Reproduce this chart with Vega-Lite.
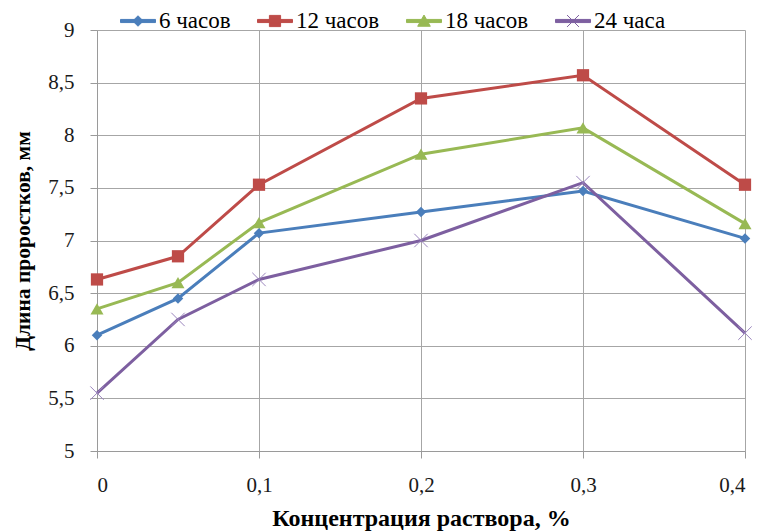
{
  "$schema": "https://vega.github.io/schema/vega-lite/v6.json",
  "width": 648,
  "height": 421,
  "autosize": {"type": "none"},
  "padding": {"left": 97, "top": 30, "right": 19, "bottom": 80},
  "background": "white",
  "config": {
    "locale": {"number": {"decimal": ",", "thousands": " ", "grouping": [3], "currency": ["", ""]}},
    "font": "Liberation Serif",
    "view": {"stroke": null},
    "axis": {
      "domainColor": "#9a9a9a",
      "tickColor": "#9a9a9a",
      "gridColor": "#a6a6a6",
      "gridOpacity": 1,
      "tickSize": 7,
      "labelFont": "Liberation Serif",
      "labelFontSize": 21,
      "labelColor": "#1a1a1a",
      "titleFont": "Liberation Serif",
      "titleFontWeight": "bold",
      "titleColor": "#000000"
    },
    "legend": {
      "labelFont": "Liberation Serif",
      "labelFontSize": 23,
      "labelColor": "#000000"
    }
  },
  "data": {
    "values": [
      {"c": 0, "series": "6 часов", "v": 6.10},
      {"c": 0.05, "series": "6 часов", "v": 6.45},
      {"c": 0.1, "series": "6 часов", "v": 7.07},
      {"c": 0.2, "series": "6 часов", "v": 7.27},
      {"c": 0.3, "series": "6 часов", "v": 7.47},
      {"c": 0.4, "series": "6 часов", "v": 7.02},
      {"c": 0, "series": "12 часов", "v": 6.63},
      {"c": 0.05, "series": "12 часов", "v": 6.85},
      {"c": 0.1, "series": "12 часов", "v": 7.53},
      {"c": 0.2, "series": "12 часов", "v": 8.35},
      {"c": 0.3, "series": "12 часов", "v": 8.57},
      {"c": 0.4, "series": "12 часов", "v": 7.53},
      {"c": 0, "series": "18 часов", "v": 6.35},
      {"c": 0.05, "series": "18 часов", "v": 6.60},
      {"c": 0.1, "series": "18 часов", "v": 7.17},
      {"c": 0.2, "series": "18 часов", "v": 7.82},
      {"c": 0.3, "series": "18 часов", "v": 8.07},
      {"c": 0.4, "series": "18 часов", "v": 7.16},
      {"c": 0, "series": "24 часа", "v": 5.55},
      {"c": 0.05, "series": "24 часа", "v": 6.25},
      {"c": 0.1, "series": "24 часа", "v": 6.63},
      {"c": 0.2, "series": "24 часа", "v": 7.00},
      {"c": 0.3, "series": "24 часа", "v": 7.55},
      {"c": 0.4, "series": "24 часа", "v": 6.12}
    ]
  },
  "encoding": {
    "x": {
      "field": "c",
      "type": "quantitative",
      "scale": {"domain": [0, 0.4], "nice": false, "zero": false},
      "axis": {
        "values": [0, 0.1, 0.2, 0.3, 0.4],
        "format": ".1~f",
        "labelFont": "Liberation Serif",
        "labelPadding": 16,
        "title": "Концентрация раствора, %",
        "titleFontSize": 24,
        "titlePadding": 11
      }
    },
    "y": {
      "field": "v",
      "type": "quantitative",
      "scale": {"domain": [5, 9], "nice": false, "zero": false},
      "axis": {
        "values": [5, 5.5, 6, 6.5, 7, 7.5, 8, 8.5, 9],
        "format": "~g",
        "labelFont": "Liberation Serif",
        "labelPadding": 16,
        "title": "Длина проростков, мм",
        "titleFontSize": 21.5,
        "titlePadding": 13
      }
    },
    "color": {
      "field": "series",
      "type": "nominal",
      "scale": {
        "domain": ["6 часов", "12 часов", "18 часов", "24 часа"],
        "range": ["#4a7ebb", "#be4b48", "#98b954", "#7d5fa0"]
      },
      "legend": {
        "orient": "none",
        "legendX": 23,
        "legendY": -27,
        "direction": "horizontal",
        "title": null,
        "labelFont": "Liberation Serif",
        "symbolSize": 1225,
        "symbolType": "M-1,-0.09H1V0.09H-1Z",
        "labelOffset": 3,
        "columnPadding": 24,
        "encode": {
          "symbols": {
            "update": {
              "shape": {"signal": "datum.value === '6 часов' ? 'M-1,-0.09H1V0.09H-1Z M-0.3,0L0,-0.3L0.3,0L0,0.3Z' : datum.value === '12 часов' ? 'M-1,-0.09H1V0.09H-1Z M-0.32,-0.32H0.32V0.32H-0.32Z' : datum.value === '18 часов' ? 'M-1,-0.09H1V0.09H-1Z M0,-0.34L0.36,0.3H-0.36Z' : 'M-1,-0.09H1V0.09H-1Z M-0.34,-0.34L0.34,0.34M-0.34,0.34L0.34,-0.34'"},
              "fill": {"signal": "datum.value === '6 часов' ? '#4a7ebb' : datum.value === '12 часов' ? '#be4b48' : datum.value === '18 часов' ? '#98b954' : '#7d5fa0'"},
              "stroke": {"signal": "datum.value === '6 часов' ? '#4a7ebb' : datum.value === '12 часов' ? '#be4b48' : datum.value === '18 часов' ? '#98b954' : '#9a85bd'"},
              "strokeWidth": {"value": 1},
              "opacity": {"value": 1}
            }
          }
        }
      }
    }
  },
  "layer": [
    {
      "mark": {"type": "line", "strokeWidth": 3}
    },
    {
      "transform": [{"filter": "datum.series === '6 часов'"}],
      "mark": {"type": "point", "filled": true, "opacity": 1, "shape": "diamond", "size": 110}
    },
    {
      "transform": [{"filter": "datum.series === '12 часов'"}],
      "mark": {"type": "point", "filled": true, "opacity": 1, "shape": "square", "size": 150}
    },
    {
      "transform": [{"filter": "datum.series === '18 часов'"}],
      "mark": {"type": "point", "filled": true, "opacity": 1, "shape": "triangle-up", "size": 170}
    },
    {
      "transform": [{"filter": "datum.series === '24 часа'"}],
      "mark": {"type": "point", "filled": false, "opacity": 1, "shape": "M-1,-1L1,1M-1,1L1,-1", "size": 180, "strokeWidth": 1},
      "encoding": {"color": {"value": "#9a85bd"}}
    }
  ]
}
